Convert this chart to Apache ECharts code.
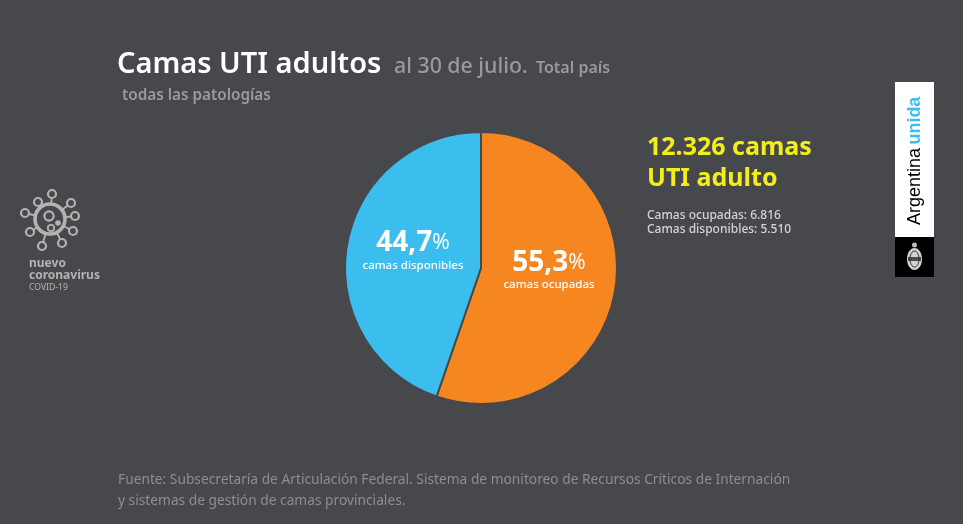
<!DOCTYPE html>
<html>
<head>
<meta charset="utf-8">
<style>
  html, body { margin: 0; padding: 0; background: #47484c; }
  #chart { width: 963px; height: 524px; }
</style>
<script src="https://cdn.jsdelivr.net/npm/echarts@6/dist/echarts.min.js"></script>
</head>
<body>
<div id="chart"></div>
<script>
const categories = ['camas ocupadas', 'camas disponibles'];
const beds = [6816, 5510];
const shares = ['55,3', '44,7'];
const colors = ['#f6861f', '#3bbdee'];
// nudges the pie labels to where the reference has them
const labelShift = [[-2, -8], [2, -4]];

const FONT = '"Noto Sans", "Open Sans", sans-serif';
const GREY = '#9a9a9d';

function text(x, y, str, size, fill, weight, extra) {
  return Object.assign({
    type: 'text',
    x: x,
    y: y,
    style: { text: str, fontFamily: FONT, fontSize: size, fill: fill, fontWeight: weight || 400 }
  }, extra || {});
}

// virus icon on the left
const ICON = '#b5b3b2';
const spikes = [[52, 194], [71, 203], [75, 216], [73, 231], [62, 243], [42, 246], [30, 232], [25, 213], [38, 202]];
const virus = [];
spikes.forEach((p) => {
  virus.push({ type: 'line', shape: { x1: 50, y1: 219, x2: p[0], y2: p[1] }, style: { stroke: ICON, lineWidth: 1.8 } });
  virus.push({ type: 'circle', shape: { cx: p[0], cy: p[1], r: 4 }, style: { fill: '#47484c', stroke: ICON, lineWidth: 2.2 } });
});
virus.push({ type: 'circle', shape: { cx: 50, cy: 219, r: 15 }, style: { fill: '#47484c', stroke: ICON, lineWidth: 3.6 } });
virus.push({ type: 'circle', shape: { cx: 49, cy: 216, r: 4.6 }, style: { fill: 'none', stroke: ICON, lineWidth: 2.2 } });
virus.push({ type: 'circle', shape: { cx: 51, cy: 228, r: 3.2 }, style: { fill: 'none', stroke: ICON, lineWidth: 1.8 } });
virus.push({ type: 'circle', shape: { cx: 58, cy: 223, r: 2.8 }, style: { fill: ICON } });

// Argentina unida badge on the right
const badge = [
  { type: 'rect', shape: { x: 895, y: 82, width: 39, height: 155 }, style: { fill: '#ffffff' } },
  { type: 'rect', shape: { x: 895, y: 237, width: 39, height: 40 }, style: { fill: '#000000' } },
  {
    type: 'text', x: 915, y: 225, rotation: Math.PI / 2,
    style: {
      text: '{a|Argentina} {u|unida}',
      verticalAlign: 'middle',
      rich: {
        a: { fontFamily: 'Liberation Sans', fontSize: 18, fill: '#000000', textStroke: '#000000', textStrokeWidth: 0.4 },
        u: { fontFamily: 'Liberation Sans', fontSize: 18, fontWeight: 700, fill: '#3bbdee' }
      }
    }
  },
  { type: 'circle', shape: { cx: 914.5, cy: 245, r: 2.5 }, style: { fill: '#bdbdbd' } },
  { type: 'ellipse', shape: { cx: 914.5, cy: 259, rx: 7.5, ry: 11 }, style: { fill: '#d2d2d2' } },
  { type: 'rect', shape: { x: 908, y: 257, width: 13, height: 4 }, style: { fill: '#4d4d4d' } },
  { type: 'ellipse', shape: { cx: 914.5, cy: 259, rx: 4.5, ry: 8 }, style: { fill: 'none', stroke: '#2e2e2e', lineWidth: 1 } }
];

const titles = [
  text(117, 50, 'Camas UTI adultos', 29, '#ffffff', 600),
  text(394, 56, 'al 30 de julio.', 21.3, GREY, 500),
  text(536, 60, 'Total país', 16, GREY, 600),
  text(122, 88, 'todas las patologías', 15.3, GREY, 600),
  text(647, 135, '12.326 camas', 25, '#f2ee1c', 700),
  text(647, 166, 'UTI adulto', 25, '#f2ee1c', 700),
  text(647, 210, 'Camas ocupadas: ' + '6.816', 12, '#d4d4d4', 500),
  text(647, 224, 'Camas disponibles: ' + '5.510', 12, '#d4d4d4', 500),
  text(29, 258, 'nuevo', 12, ICON, 700),
  text(29, 270, 'coronavirus', 12, ICON, 700),
  text(29, 283, 'COVID-19', 8.6, ICON, 400),
  text(118, 473, 'Fuente: Subsecretaría de Articulación Federal. Sistema de monitoreo de Recursos Críticos de Internación', 13.75, '#8e8e91', 400),
  text(118, 494, 'y sistemas de gestión de camas provinciales.', 13.75, '#8e8e91', 400)
];

const chart = echarts.init(document.getElementById('chart'));
chart.setOption({
  backgroundColor: '#47484c',
  animation: false,
  series: [{
    type: 'pie',
    center: [481, 268],
    radius: [0, 136],
    startAngle: 90,
    clockwise: true,
    silent: true,
    label: {
      show: true,
      position: 'inside',
      formatter: (p) => `{big|${shares[p.dataIndex]}}{pct|%}\n{sub|${p.name}}`,
      rich: {
        big: { fontFamily: FONT, fontSize: 28, fontWeight: 700, color: '#ffffff', lineHeight: 26 },
        pct: { fontFamily: FONT, fontSize: 21, fontWeight: 400, color: '#ffffff', lineHeight: 26 },
        sub: { fontFamily: FONT, fontSize: 11.5, fontWeight: 500, color: '#ffffff', lineHeight: 18 }
      }
    },
    labelLine: { show: false },
    labelLayout: (p) => ({ dx: labelShift[p.dataIndex][0], dy: labelShift[p.dataIndex][1] }),
    itemStyle: { borderColor: '#47484c', borderWidth: 2 },
    data: categories.map((name, i) => ({
      name: name,
      value: beds[i],
      itemStyle: { color: colors[i] }
    }))
  }],
  graphic: { elements: titles.concat(virus, badge) }
});
</script>
</body>
</html>
